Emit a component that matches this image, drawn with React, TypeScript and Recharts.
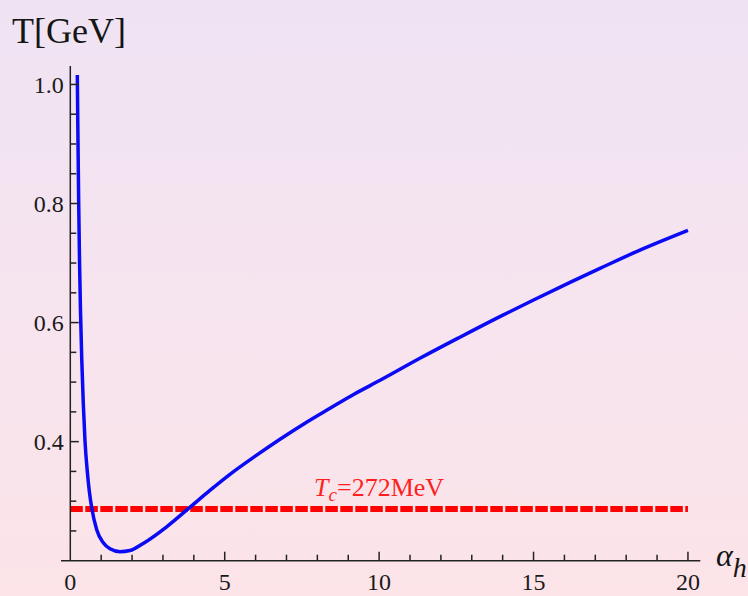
import React from 'react';
import { LineChart, Line, XAxis, YAxis, ReferenceLine } from 'recharts';

// Curve T(alpha_h)
const ALPHA = [0.227, 0.25, 0.272, 0.3, 0.33, 0.37, 0.42, 0.476, 0.55, 0.62, 0.693, 0.855, 1.068, 1.285, 1.609, 1.93, 2.36, 3.12, 3.88, 4.52, 5.17, 6.0, 6.79, 7.6, 8.41, 9.2, 10.03, 11.32, 12.6, 13.91, 15.0, 16.2, 17.15, 18.5, 20.0];
const TEMP = [1.016, 0.9, 0.8, 0.7, 0.62, 0.54, 0.465, 0.401, 0.35, 0.315, 0.289, 0.252, 0.23, 0.22, 0.2151, 0.217, 0.229, 0.257, 0.29, 0.318, 0.345, 0.376, 0.404, 0.431, 0.456, 0.48, 0.503, 0.54, 0.575, 0.61, 0.638, 0.668, 0.691, 0.723, 0.755];

// Critical temperature line
const TC_VALUE = 0.287;
const TC_RANGE = [0, 20];
const TC_TEXT = '=272MeV';

// Axes
const X_DOMAIN = [0, 20.4];
const X_AXIS_START = -0.3;
const Y_DOMAIN = [0.2, 1.031];
const X_TICKS = [0, 1, 2, 3, 4, 5, 6, 7, 8, 9, 10, 11, 12, 13, 14, 15, 16, 17, 18, 19, 20];
const X_MAJOR = [0, 5, 10, 15, 20];
const Y_TICKS = [0.25, 0.3, 0.35, 0.4, 0.45, 0.5, 0.55, 0.6, 0.65, 0.7, 0.75, 0.8, 0.85, 0.9, 0.95, 1.0];
const Y_MAJOR = [0.4, 0.6, 0.8, 1.0];
const Y_LABELS = ['0.4', '0.6', '0.8', '1.0'];

const data = ALPHA.map((a, i) => ({ a, T: TEMP[i] }));

const FONT = '"Liberation Serif", "DejaVu Serif", serif';
const AXIS_COLOR = '#222';

const isMajor = (list: number[], v: number) => list.some((m) => Math.abs(m - v) < 1e-9);

const XTick = (props: any) => {
  const { x, y, payload } = props;
  const v = payload.value;
  const major = isMajor(X_MAJOR, v);
  return (
    <g>
      {v !== 0 && (
        <line x1={x} x2={x} y1={y} y2={y - (major ? 9 : 6)} stroke={AXIS_COLOR} strokeWidth={1.5} />
      )}
      {major && (
        <text x={x} y={y + 29} textAnchor="middle" fontFamily={FONT} fontSize={24} fill="#1a1a1a">
          {v}
        </text>
      )}
    </g>
  );
};

const YTick = (props: any) => {
  const { x, y, payload } = props;
  const v = payload.value;
  const idx = Y_MAJOR.findIndex((m) => Math.abs(m - v) < 1e-9);
  const major = idx >= 0;
  return (
    <g>
      <line x1={x} x2={x + (major ? 8.5 : 6)} y1={y} y2={y} stroke={AXIS_COLOR} strokeWidth={1.5} />
      {major && (
        <text x={x - 6.5} y={y + 8.5} textAnchor="end" fontFamily={FONT} fontSize={24} fill="#1a1a1a">
          {Y_LABELS[idx]}
        </text>
      )}
    </g>
  );
};

const TcLabel = (props: any) => {
  const vb = props.viewBox || props;
  const cx = vb.x + (vb.width || 0) / 2;
  const y = vb.y - 13;
  return (
    <text x={cx} y={y} textAnchor="middle" fontFamily={FONT} fontSize={26} fill="#ff1f1f">
      <tspan fontStyle="italic">T</tspan>
      <tspan fontStyle="italic" fontSize={19} dy={5}>c</tspan>
      <tspan dy={-5}>{TC_TEXT}</tspan>
    </text>
  );
};

export default function App() {
  return (
    <div
      style={{
        position: 'absolute',
        left: 0,
        top: 0,
        width: 748,
        height: 596,
        overflow: 'hidden',
        background: 'linear-gradient(to bottom, #efe3f3 0%, #f6e4ef 50%, #fce4e8 100%)',
      }}
    >
      <LineChart
        width={748}
        height={596}
        data={data}
        margin={{ top: 66, right: 47.7, bottom: 0, left: 0 }}
      >
        <XAxis
          dataKey="a"
          type="number"
          domain={X_DOMAIN}
          allowDataOverflow
          ticks={X_TICKS}
          interval={0}
          tick={<XTick />}
          tickLine={false}
          tickSize={0}
          tickMargin={0}
          axisLine={false}
          height={35.3}
        />
        <YAxis
          type="number"
          domain={Y_DOMAIN}
          allowDataOverflow
          ticks={Y_TICKS}
          interval={0}
          tick={<YTick />}
          tickLine={false}
          tickSize={0}
          tickMargin={0}
          axisLine={{ stroke: AXIS_COLOR, strokeWidth: 1.5 }}
          width={70.3}
        />
        <ReferenceLine
          segment={[
            { x: X_AXIS_START, y: Y_DOMAIN[0] },
            { x: X_DOMAIN[1], y: Y_DOMAIN[0] },
          ]}
          stroke={AXIS_COLOR}
          strokeWidth={1.5}
          ifOverflow="visible"
        />
        <ReferenceLine
          segment={[
            { x: TC_RANGE[0], y: TC_VALUE },
            { x: TC_RANGE[1], y: TC_VALUE },
          ]}
          stroke="#ff0000"
          strokeWidth={6}
          strokeDasharray="12.5 2.5"
          ifOverflow="visible"
          label={TcLabel}
        />
        <Line
          type="monotone"
          dataKey="T"
          stroke="#0a0af5"
          strokeWidth={3.5}
          dot={false}
          isAnimationActive={false}
        />
      </LineChart>
      <svg
        width={748}
        height={596}
        style={{ position: 'absolute', left: 0, top: 0, pointerEvents: 'none' }}
      >
        <text x={12} y={43} fontFamily={FONT} fontSize={36} fill="#151515">
          T[GeV]
        </text>
        <text x={716} y={566} fontFamily={FONT} fontSize={32} fontStyle="italic" fill="#151515">
          α
          <tspan fontSize={28} dy={11}>h</tspan>
        </text>
      </svg>
    </div>
  );
}
